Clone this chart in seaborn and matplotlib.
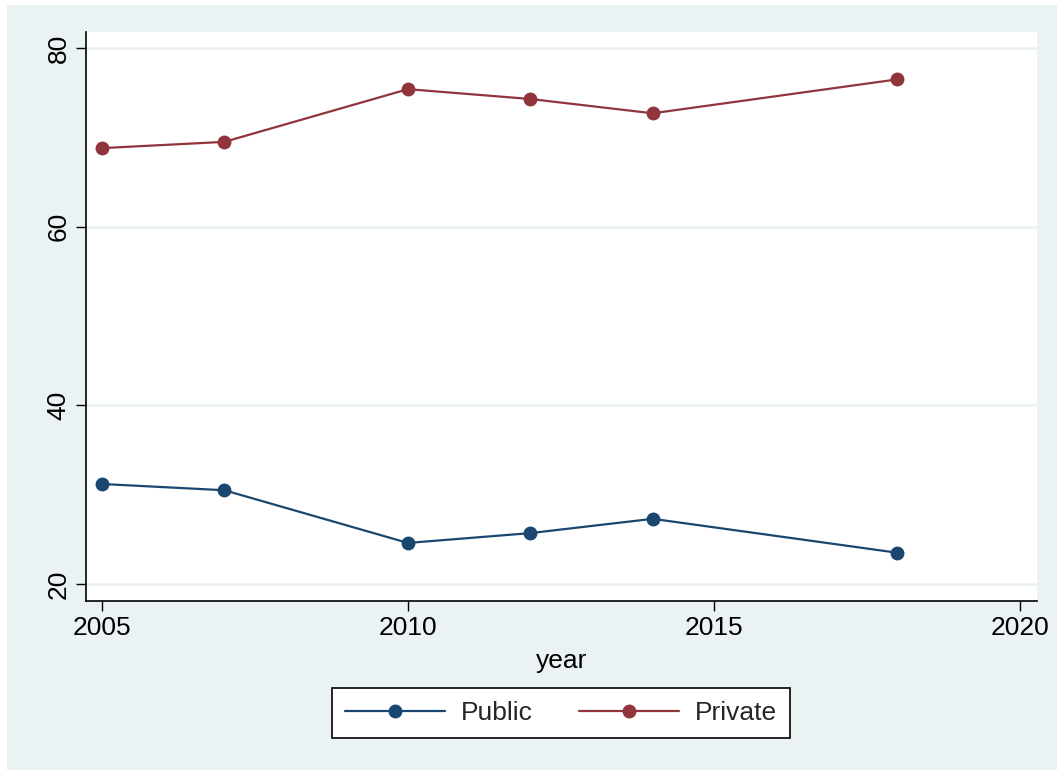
import numpy as np
import pandas as pd
import seaborn as sns
import matplotlib.pyplot as plt
from matplotlib.patches import Rectangle

# valores
years = [2005, 2007, 2010, 2012, 2014, 2018]
public = [31.2, 30.5, 24.6, 25.7, 27.3, 23.5]
private = [68.8, 69.5, 75.4, 74.3, 72.7, 76.5]
series_names = ['Public', 'Private']
x_ticks = [2005, 2010, 2015, 2020]
y_ticks = [20, 40, 60, 80]

df = pd.DataFrame({
    'year': years * 2,
    'value': public + private,
    'sector': [series_names[0]] * len(years) + [series_names[1]] * len(years),
})

sns.set_theme(style='white')
plt.rcParams['font.family'] = ['Liberation Sans', 'DejaVu Sans']

bg = '#eaf2f3'
navy = '#1a476f'
maroon = '#90353b'

W, H = 1057, 771
fig = plt.figure(figsize=(W / 100, H / 100), dpi=100, facecolor='white')
fig.patches.append(Rectangle((7 / W, 1 / H), 1 - 7 / W, 1 - 6 / H,
                             transform=fig.transFigure, facecolor=bg,
                             edgecolor='none', zorder=-10))

ax = fig.add_axes([86 / W, (H - 601) / H, (1037 - 86) / W, (601 - 32) / H])
ax.set_facecolor('white')

sns.lineplot(data=df, x='year', y='value', hue='sector', hue_order=series_names,
             palette=[navy, maroon], marker='o', markersize=10,
             markeredgewidth=0, linewidth=1.6, ax=ax, legend=False)

ax.set_xlim(2004.74, 2020.28)
ax.set_ylim(18.1, 81.8)
ax.set_xticks(x_ticks)
ax.set_yticks(y_ticks)
for t in y_ticks:
    ax.axhline(t, color=bg, linewidth=1.8, zorder=0)

for s in ['top', 'right']:
    ax.spines[s].set_visible(False)
for s in ['left', 'bottom']:
    ax.spines[s].set_color('black')
    ax.spines[s].set_linewidth(1.2)

ax.tick_params(axis='both', which='major', direction='out', length=7,
               width=1, color='black', labelsize=19, labelcolor='black',
               bottom=True, left=True, pad=4)
for lab in ax.get_yticklabels():
    lab.set_rotation(90)
    lab.set_va('center')

ax.set_xlabel('year', fontsize=19, color='black', labelpad=6)
ax.set_ylabel('')

handles = [plt.Line2D([], [], color=c, marker='o', markersize=10,
                      markeredgewidth=0, linewidth=1.6)
           for c in [navy, maroon]]
leg = fig.legend(handles, series_names, loc='center',
                 bbox_to_anchor=(561 / W, 1 - 713 / H), ncol=2, fontsize=19,
                 frameon=True, fancybox=False, framealpha=1,
                 edgecolor='black', handlelength=3.8, columnspacing=1.75,
                 handletextpad=0.6, borderpad=0.5, borderaxespad=0)
leg.get_frame().set_linewidth(1.2)

fig.savefig('out.png', dpi=100, facecolor='white')
